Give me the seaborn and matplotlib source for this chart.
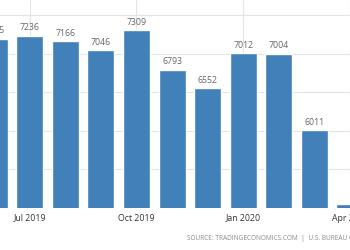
import matplotlib
matplotlib.use("Agg")
import matplotlib.pyplot as plt
import seaborn as sns
import pandas as pd

months = ["Jun 2019", "Jul 2019", "Aug 2019", "Sep 2019", "Oct 2019", "Nov 2019",
          "Dec 2019", "Jan 2020", "Feb 2020", "Mar 2020", "Apr 2020"]
values = [7195, 7236, 7166, 7046, 7309, 6793, 6552, 7012, 7004, 6011, 5046]
tick_months = ["Jul 2019", "Oct 2019", "Jan 2020", "Apr 2020"]
source_text = "SOURCE: TRADINGECONOMICS.COM  |  U.S. BUREAU OF LABOR STATISTICS"

df = pd.DataFrame({"month": months, "value": values})

sns.set_style("white")
plt.rcParams["font.family"] = ["Open Sans", "DejaVu Sans"]

fig = plt.figure(figsize=(3.5, 2.5), dpi=100)
ax = fig.add_axes([0, 1 - 208 / 250, 1, 208 / 250])

sns.barplot(data=df, x="month", y="value", color="#4180b9", saturation=1,
            width=0.76, ax=ax, zorder=2)

tick_pos = [months.index(m) for m in tick_months]
for p in tick_pos:
    ax.axvline(p, color="#e4e4e4", linewidth=0.8, zorder=0)
ax.set_ylim(5000, 7700)
ax.set_xlim(0.164, 9.753)
ax.set_yticks([5500, 6000, 6500, 7000, 7500])
ax.yaxis.grid(True, color="#e4e4e4", linewidth=0.8, zorder=0)
ax.set_axisbelow(True)
ax.set_xticks(tick_pos)
ax.set_xticklabels(tick_months, fontsize=6.3, color="#333333")
ax.tick_params(axis="x", length=0, pad=4)
ax.tick_params(axis="y", left=False, labelleft=False)
ax.set_xlabel("")
ax.set_ylabel("")
for s in ax.spines.values():
    s.set_visible(False)

for i, v in enumerate(values[:-1]):
    ax.text(i, v + 45, f"{v}", ha="center", va="bottom", fontsize=6.3,
            color="#666666")

fig.text(187 / 350, 1 - 239 / 250, source_text, ha="left", va="center",
         fontsize=4.7, color="#8a8a8a")

fig.savefig("out.png", dpi=100)
